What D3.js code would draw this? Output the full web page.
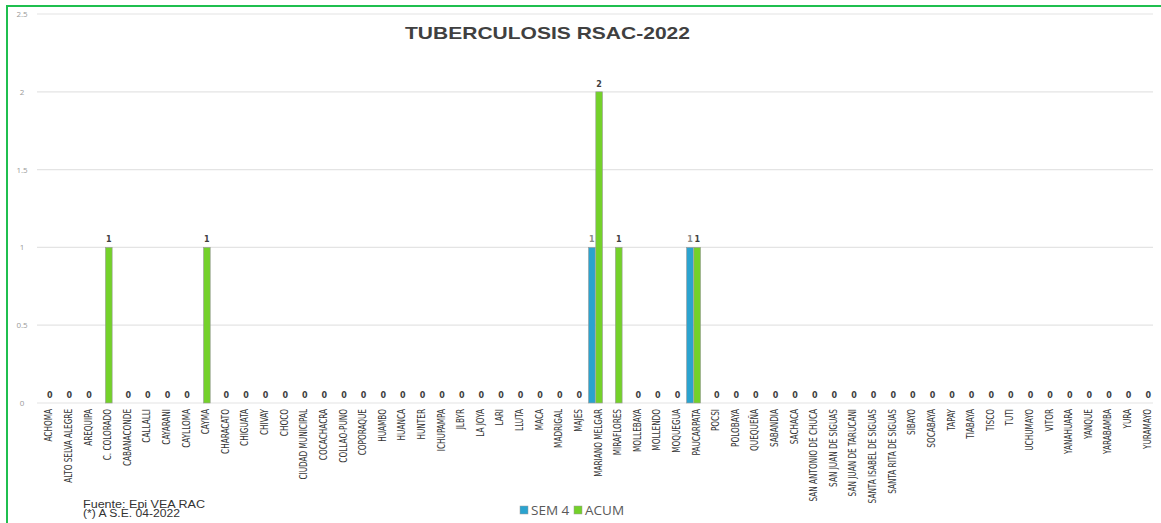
<!DOCTYPE html>
<html>
<head>
<meta charset="utf-8">
<script src="https://cdn.jsdelivr.net/npm/d3@7"></script>
<style>
  body { margin: 0; background: #fff; }
</style>
</head>
<body>
<svg width="1161" height="523"></svg>
<script>
// Tuberculosis RSAC-2022 bar chart

const categories = ["ACHOMA", "ALTO SELVA ALEGRE", "AREQUIPA", "C. COLORADO", "CABANACONDE", "CALLALLI",
    "CAYARANI", "CAYLLOMA", "CAYMA", "CHARACATO", "CHIGUATA", "CHIVAY", "CHOCO", "CIUDAD MUNICIPAL",
    "COCACHACRA", "COLLAO-PUNO", "COPORAQUE", "HUAMBO", "HUANCA", "HUNTER", "ICHUPAMPA", "JLBYR",
    "LA JOYA", "LARI", "LLUTA", "MACA", "MADRIGAL", "MAJES", "MARIANO MELGAR", "MIRAFLORES",
    "MOLLEBAYA", "MOLLENDO", "MOQUEGUA", "PAUCARPATA", "POCSI", "POLOBAYA", "QUEQUEÑA", "SABANDIA",
    "SACHACA", "SAN ANTONIO DE CHUCA", "SAN JUAN DE SIGUAS", "SAN JUAN DE TARUCANI",
    "SANTA ISABEL DE SIGUAS", "SANTA RITA DE SIGUAS", "SIBAYO", "SOCABAYA", "TAPAY", "TIABAYA",
    "TISCO", "TUTI", "UCHUMAYO", "VITOR", "YANAHUARA", "YANQUE", "YARABAMBA", "YURA", "YURAMAYO"];

const sem4 = [0, 0, 0, 0, 0, 0, 0, 0, 0, 0, 0, 0, 0, 0, 0, 0, 0, 0, 0, 0, 0, 0, 0, 0, 0, 0, 0, 0,
    1, 0, 0, 0, 0, 1, 0, 0, 0, 0, 0, 0, 0, 0, 0, 0, 0, 0, 0, 0, 0, 0, 0, 0, 0, 0, 0, 0, 0];

const acum = [0, 0, 0, 1, 0, 0, 0, 0, 1, 0, 0, 0, 0, 0, 0, 0, 0, 0, 0, 0, 0, 0, 0, 0, 0, 0, 0, 0,
    2, 1, 0, 0, 0, 1, 0, 0, 0, 0, 0, 0, 0, 0, 0, 0, 0, 0, 0, 0, 0, 0, 0, 0, 0, 0, 0, 0, 0];

const seriesNames = ["SEM 4", "ACUM"];
const yTicks = [0, 0.5, 1, 1.5, 2, 2.5];

var svg = d3.select("svg");

var colors = {"SEM 4": "#2ba3cf", "ACUM": "#74d12a"};

// green frame (top and left only)
svg.append("path")
    .attr("d", "M7,523 L7,6 L1161,6")
    .attr("fill", "none")
    .attr("stroke", "#1fbf4f")
    .attr("stroke-width", 2);

var x = d3.scaleBand()
    .domain(categories)
    .range([40, 1158]);

var x1 = d3.scaleBand()
    .domain(seriesNames)
    .range([0, 14])
    .paddingInner(0.08);

var y = d3.scaleLinear()
    .domain([0, 2.5])
    .range([403, 14]);

// gridlines
svg.append("g")
    .selectAll("line")
    .data(yTicks)
    .enter().append("line")
    .attr("x1", 37)
    .attr("x2", 1153)
    .attr("y1", function(d) { return y(d); })
    .attr("y2", function(d) { return y(d); })
    .attr("stroke", "#e4e4e4")
    .attr("stroke-width", 1.2);

// y tick labels
svg.append("g")
    .selectAll("text")
    .data(yTicks)
    .enter().append("text")
    .attr("x", 22)
    .attr("y", function(d) { return y(d) + 3; })
    .attr("text-anchor", "middle")
    .style("font-family", "Open Sans, sans-serif")
    .style("font-size", "8px")
    .style("fill", "#9a9a9a")
    .text(function(d) { return d; });

// title
svg.append("text")
    .attr("x", 405)
    .attr("y", 39)
    .attr("textLength", 285)
    .attr("lengthAdjust", "spacingAndGlyphs")
    .style("font-family", "Liberation Sans, Arial, sans-serif")
    .style("font-weight", "bold")
    .style("font-size", "17px")
    .style("fill", "#404040")
    .text("TUBERCULOSIS RSAC-2022");

// build rows
var rows = categories.map(function(c, i) {
    return {cat: c, values: [{key: "SEM 4", value: sem4[i]}, {key: "ACUM", value: acum[i]}]};
});

var groups = svg.append("g")
    .selectAll("g")
    .data(rows)
    .enter().append("g")
    .attr("transform", function(d) {
        return "translate(" + (x(d.cat) + x.bandwidth() / 2 - 10.5) + ",0)";
    });

groups.selectAll("rect")
    .data(function(d) { return d.values.filter(function(v) { return v.value > 0; }); })
    .enter().append("rect")
    .attr("x", function(d) { return x1(d.key); })
    .attr("width", x1.bandwidth())
    .attr("y", function(d) { return y(d.value); })
    .attr("height", function(d) { return y(0) - y(d.value); })
    .attr("fill", function(d) { return colors[d.key]; })
    .attr("stroke", "#9a9a9a")
    .attr("stroke-width", 0.6);

// value labels: ACUM always, SEM 4 only when not zero
groups.selectAll("text")
    .data(function(d) { return d.values.filter(function(v) { return v.key == "ACUM" || v.value > 0; }); })
    .enter().append("text")
    .attr("x", function(d) {
        if (d.key == "ACUM" && d.value == 0) return 10.5;
        return x1(d.key) + x1.bandwidth() / 2;
    })
    .attr("y", function(d) { return y(d.value) - 5; })
    .attr("text-anchor", "middle")
    .style("font-family", "DejaVu Sans, sans-serif")
    .style("font-weight", "bold")
    .style("font-size", "8px")
    .style("fill", function(d) { return d.key == "ACUM" ? "#404040" : "#8a8a8a"; })
    .text(function(d) { return d.value; });

// category labels, squeezed along their length like the narrow font of the picture
svg.append("g")
    .selectAll("text")
    .data(categories)
    .enter().append("text")
    .attr("transform", function(d) {
        return "translate(" + (x(d) + x.bandwidth() / 2 + 2.5) + ",409) rotate(-90) scale(0.74,1)";
    })
    .attr("text-anchor", "end")
    .style("font-family", "DejaVu Sans Condensed, sans-serif")
    .style("font-size", "11px")
    .style("fill", "#333")
    .text(function(d) { return d; });

// legend
var legend = svg.append("g")
    .attr("transform", "translate(520,506)");

var legendItems = legend.selectAll("g")
    .data(seriesNames)
    .enter().append("g")
    .attr("transform", function(d, i) { return "translate(" + (i * 54) + ",0)"; });

legendItems.append("rect")
    .attr("width", 8)
    .attr("height", 8)
    .attr("fill", function(d) { return colors[d]; })
    .attr("stroke", "#9a9a9a")
    .attr("stroke-width", 0.5);

legendItems.append("text")
    .attr("x", 11)
    .attr("y", 9)
    .style("font-family", "Open Sans, sans-serif")
    .style("font-size", "13.5px")
    .style("fill", "#595959")
    .text(function(d) { return d; });

// source note
svg.append("text")
    .attr("x", 83)
    .attr("y", 508)
    .attr("textLength", 122)
    .attr("lengthAdjust", "spacingAndGlyphs")
    .style("font-family", "Liberation Sans, Arial, sans-serif")
    .style("font-size", "10px")
    .style("fill", "#333")
    .text("Fuente:  Epi VEA RAC");

svg.append("text")
    .attr("x", 83)
    .attr("y", 517)
    .attr("textLength", 97)
    .attr("lengthAdjust", "spacingAndGlyphs")
    .style("font-family", "Liberation Sans, Arial, sans-serif")
    .style("font-size", "10px")
    .style("fill", "#333")
    .text("(*) A S.E. 04-2022");
</script>
</body>
</html>
